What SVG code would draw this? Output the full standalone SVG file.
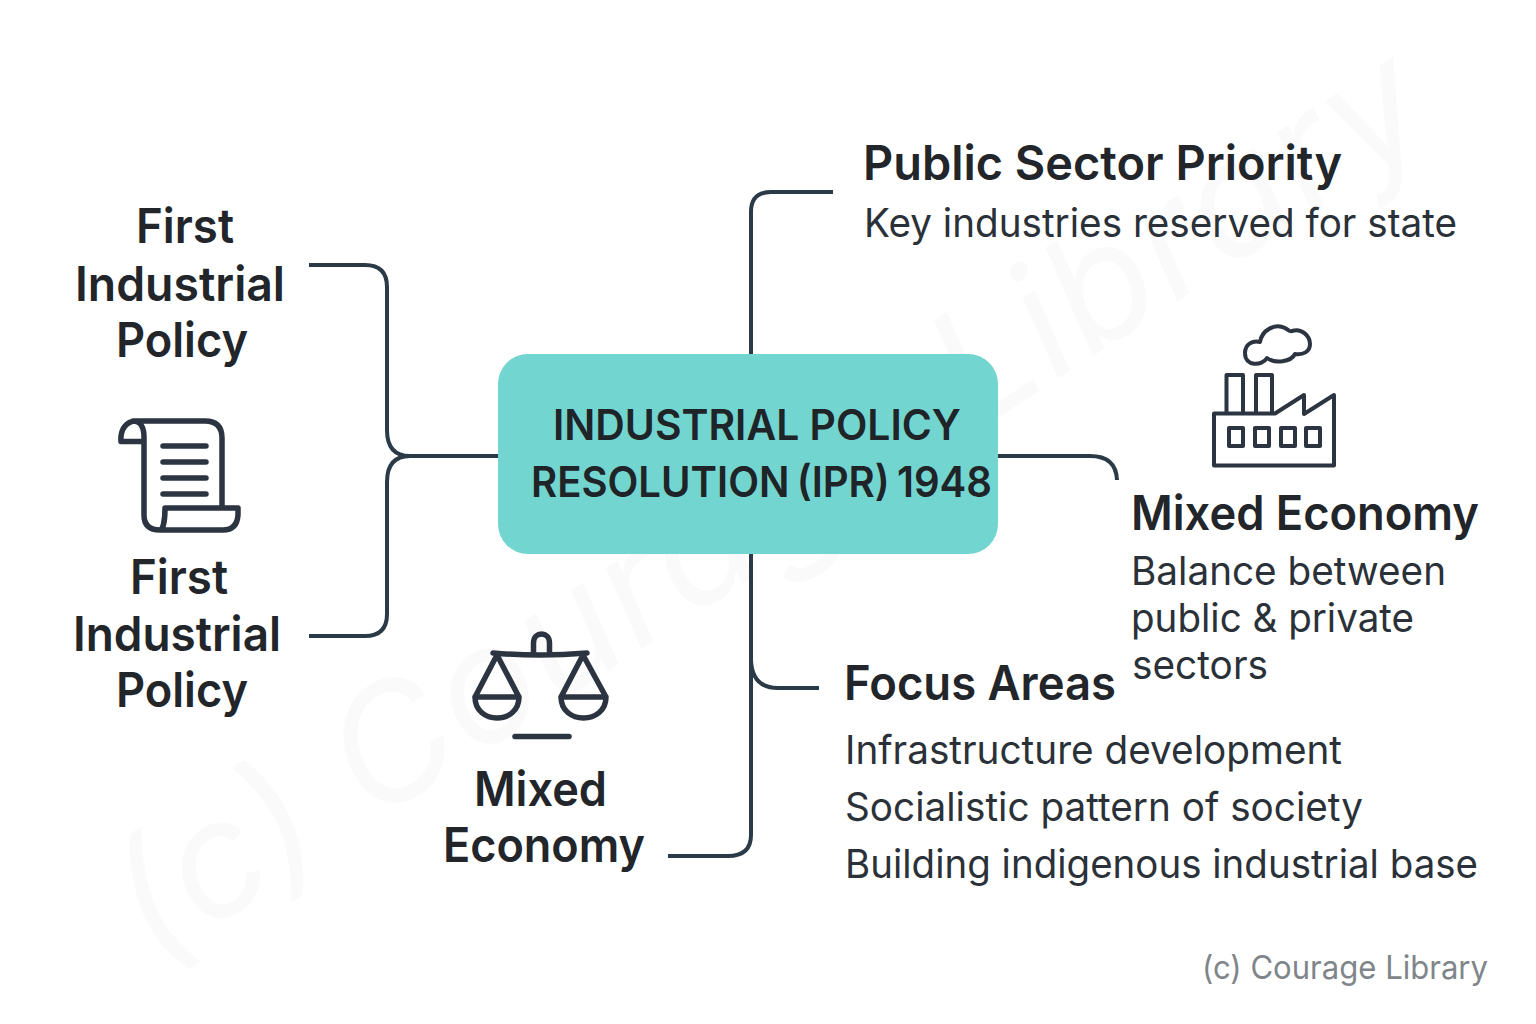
<svg xmlns="http://www.w3.org/2000/svg" width="1536" height="1024" viewBox="0 0 1536 1024">
<style>
text{font-family:Inter,"Liberation Sans",sans-serif;fill:#22262b}
.h{font-size:48px;font-weight:600}
.b{font-size:39px;font-weight:400;fill:#2b3138}
.c{font-size:42px;font-weight:600;fill:#1f2428}
.i{fill:none;stroke:#2b3440;stroke-width:5.500;stroke-linecap:round;stroke-linejoin:round}
.f{stroke-width:4}
.l{fill:none;stroke:#2b3a47;stroke-width:4}
.wm{font-size:160px;fill:#fafafa;font-weight:400;font-style:italic}
</style>
<rect width="1536" height="1024" fill="#fff"/>
<text class="wm" transform="translate(155 965) rotate(-33)" textLength="1530" lengthAdjust="spacing">(c) Courage Library</text>
<g id="connectors">
<path class="l" d="M309,265H365Q387,265 387,287V430Q387,456 410,456H498"/>
<path class="l" d="M309,636H365Q387,636 387,614V482Q387,456 410,456"/>
<path class="l" d="M751,354V212Q751,192 771,192H833"/>
<path class="l" d="M998,456H1090Q1116,456 1117,480"/>
<path class="l" d="M751,554V835Q751,856 728,856H668"/>
<path class="l" d="M751,660Q752,688 778,688H819"/>
</g>
<g id="center">
<rect x="498" y="354" width="500" height="200" rx="30" fill="#73d5cf"/>
<text class="c" x="553" y="440" textLength="408" lengthAdjust="spacingAndGlyphs">INDUSTRIAL POLICY</text>
<text class="c" x="531" y="497" textLength="461" lengthAdjust="spacingAndGlyphs" word-spacing="-3">RESOLUTION (IPR) 1948</text>
</g>
<g id="first-policy-top">
<text class="h" x="136" y="243" textLength="98" lengthAdjust="spacingAndGlyphs">First</text>
<text class="h" x="75" y="301" textLength="210" lengthAdjust="spacingAndGlyphs">Industrial</text>
<text class="h" x="116" y="357" textLength="132" lengthAdjust="spacingAndGlyphs">Policy</text>
</g>
<g id="scroll-icon">
<path class="i" d="M121,441.500H144M121,441.500C120,430 126,421 136,421H205Q222,421 222,438V508M165,508H238V515Q237,530 223,530H160Q144,530 144,515V437C144,428 141,421 133,421M160,530C163,530 165,520 165,508"/>
<path class="i" d="M163,446H206M163,462H206M163,478H206M163,494H206"/>
</g>
<g id="first-policy-bottom">
<text class="h" x="130" y="594" textLength="98" lengthAdjust="spacingAndGlyphs">First</text>
<text class="h" x="73" y="651" textLength="208" lengthAdjust="spacingAndGlyphs">Industrial</text>
<text class="h" x="116" y="707" textLength="132" lengthAdjust="spacingAndGlyphs">Policy</text>
</g>
<g id="scales-icon">
<path class="i" d="M493,653Q540,657 587,653M533.500,653V643C533.500,631 549.500,631 549.500,643V653"/>
<path class="i" d="M497,655L475,697H519L497,655M475,697C475,725 519,725 519,697"/>
<path class="i" d="M583,655L561,697H606L583,655M561,697C561,725 606,725 606,697"/>
<path class="i" d="M515,736.500H569"/>
</g>
<g id="mixed-left">
<text class="h" x="474" y="806" textLength="133" lengthAdjust="spacingAndGlyphs">Mixed</text>
<text class="h" x="443" y="862" textLength="202" lengthAdjust="spacingAndGlyphs">Economy</text>
</g>
<g id="public-sector">
<text class="h" x="863" y="180" textLength="479" lengthAdjust="spacingAndGlyphs">Public Sector Priority</text>
<text class="b" x="864" y="237" textLength="593" lengthAdjust="spacingAndGlyphs">Key industries reserved for state</text>
</g>
<g id="factory-icon">
<path class="i f" d="M1214,413.500V465.500H1334V395L1304,414V395L1275,413.500ZM1226.500,413V375H1243V413M1256,413V375H1272V413"/>
<path class="i f" d="M1229,428h14v18h-14zM1255,428h14v18h-14zM1281,428h14v18h-14zM1306,428h14v18h-14z"/>
<path class="i f" d="M1267,358C1262,366 1245,367 1245,353C1245,344 1253,340 1260,342C1262,330 1275,323 1285,328C1290,331 1290,332 1292,331C1302,328 1310,336 1310,344C1310,352 1303,355 1295,354C1291,362 1275,364 1267,358Z"/>
</g>
<g id="mixed-right">
<text class="h" x="1131" y="530" textLength="348" lengthAdjust="spacingAndGlyphs">Mixed Economy</text>
<text class="b" x="1131" y="585" textLength="315" lengthAdjust="spacingAndGlyphs">Balance between</text>
<text class="b" x="1131" y="632" textLength="283" lengthAdjust="spacingAndGlyphs">public &amp; private</text>
<text class="b" x="1132" y="679" textLength="136" lengthAdjust="spacingAndGlyphs">sectors</text>
</g>
<g id="focus-areas">
<text class="h" x="844" y="700" textLength="272" lengthAdjust="spacingAndGlyphs">Focus Areas</text>
<text class="b" x="845" y="764" textLength="497" lengthAdjust="spacingAndGlyphs">Infrastructure development</text>
<text class="b" x="845" y="821" textLength="518" lengthAdjust="spacingAndGlyphs">Socialistic pattern of society</text>
<text class="b" x="845" y="878" textLength="633" lengthAdjust="spacingAndGlyphs">Building indigenous industrial base</text>
</g>
<text x="1202" y="979" font-size="33" style="fill:#80858a" textLength="286" lengthAdjust="spacingAndGlyphs">(c) Courage Library</text>
</svg>
